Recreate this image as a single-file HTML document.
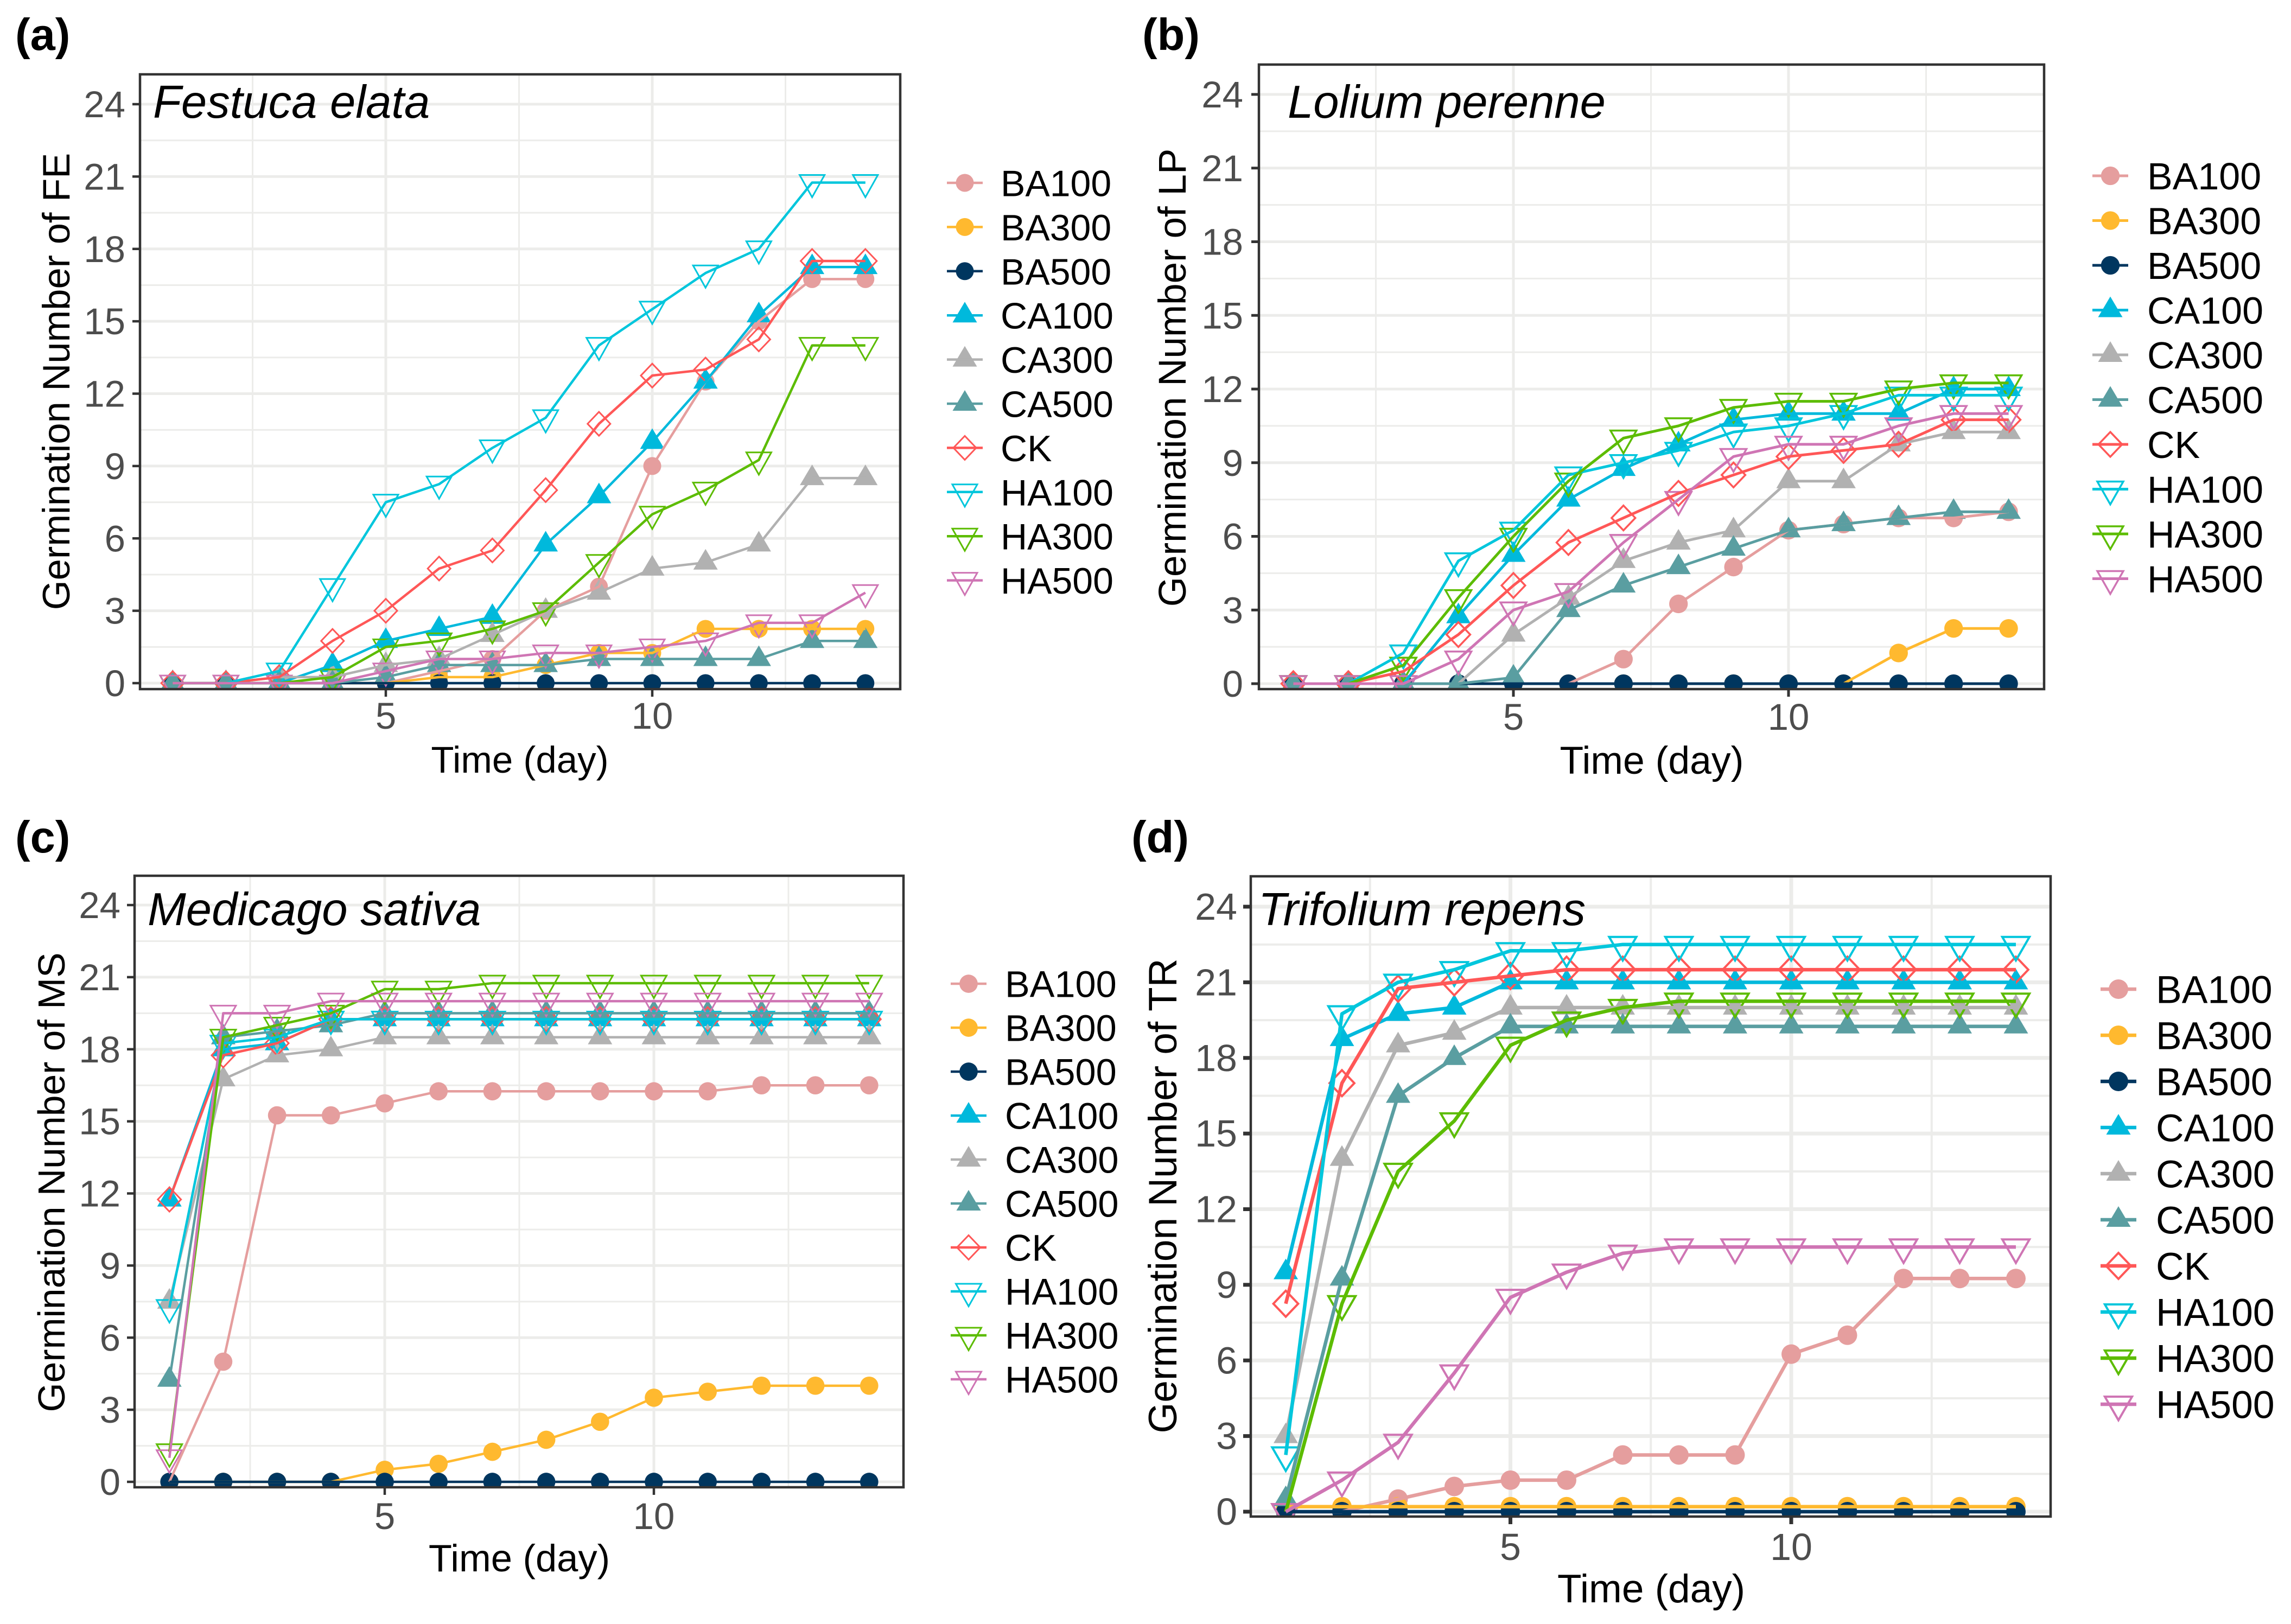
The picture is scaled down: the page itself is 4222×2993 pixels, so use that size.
<!DOCTYPE html>
<html lang="en">
<head>
<meta charset="utf-8">
<title>Germination number over time</title>
<style>
html,body{margin:0;padding:0;background:#fff;}
svg{display:block;}
text{font-family:"Liberation Sans",sans-serif;}
</style>
</head>
<body>
<svg id="figure" xmlns="http://www.w3.org/2000/svg" width="4222" height="2993" viewBox="0 0 4222 2993">
<rect width="4222" height="2993" fill="#ffffff"/>
</svg>
<script>
const days = [1,2,3,4,5,6,7,8,9,10,11,12,13,14];
const yTickLabels = [0,3,6,9,12,15,18,21,24];
const xTickLabels = [5,10];
const yMinorTicks = [1.5,4.5,7.5,10.5,13.5,16.5,19.5,22.5];
const xMinorTicks = [2.5,7.5,12.5];
const seriesNames = ['BA100','BA300','BA500','CA100','CA300','CA500','CK','HA100','HA300','HA500'];

const feBA100 = [0,0,0,0,0,0.5,1,3,4,9,12.5,15,16.75,16.75];
const feBA300 = [0,0,0,0,0,0.25,0.25,0.75,1.25,1.25,2.25,2.25,2.25,2.25];
const feBA500 = [0,0,0,0,0,0,0,0,0,0,0,0,0,0];
const feCA100 = [0,0,0,0.75,1.75,2.25,2.75,5.75,7.75,10,12.5,15.25,17.25,17.25];
const feCA300 = [0,0,0.25,0.25,0.75,1,2,3,3.75,4.75,5,5.75,8.5,8.5];
const feCA500 = [0,0,0,0,0.25,0.75,0.75,0.75,1,1,1,1,1.75,1.75];
const feCK    = [0,0,0.25,1.75,3,4.75,5.5,8,10.75,12.75,13,14.25,17.5,17.5];
const feHA100 = [0,0,0.5,4,7.5,8.25,9.75,11,14,15.5,17,18,20.75,20.75];
const feHA300 = [0,0,0,0.25,1.5,1.75,2.25,3,5,7,8,9.25,14,14];
const feHA500 = [0,0,0,0,0.5,1,1,1.25,1.25,1.5,1.75,2.5,2.5,3.75];

const lpBA100 = [0,0,0,0,0,0,1,3.25,4.75,6.25,6.5,6.75,6.75,7];
const lpBA300 = [0,0,0,0,0,0,0,0,0,0,0,1.25,2.25,2.25];
const lpBA500 = [0,0,0,0,0,0,0,0,0,0,0,0,0,0];
const lpCA100 = [0,0,0,2.75,5.25,7.5,8.75,9.75,10.75,11,11,11,12,12];
const lpCA300 = [0,0,0,0,2,3.5,5,5.75,6.25,8.25,8.25,9.75,10.25,10.25];
const lpCA500 = [0,0,0,0,0.25,3,4,4.75,5.5,6.25,6.5,6.75,7,7];
const lpCK    = [0,0,0.5,2,4,5.75,6.75,7.75,8.5,9.25,9.5,9.75,10.75,10.75];
const lpHA100 = [0,0,1.25,5,6.25,8.5,9,9.5,10.25,10.5,11,11.75,11.75,11.75];
const lpHA300 = [0,0,0.75,3.5,6,8.25,10,10.5,11.25,11.5,11.5,12,12.25,12.25];
const lpHA500 = [0,0,0,1,3,3.75,5.75,7.5,9.25,9.75,9.75,10.5,11,11];

const msBA100 = [0,5,15.25,15.25,15.75,16.25,16.25,16.25,16.25,16.25,16.25,16.5,16.5,16.5];
const msBA300 = [0,0,0,0,0.5,0.75,1.25,1.75,2.5,3.5,3.75,4,4,4];
const msBA500 = [0,0,0,0,0,0,0,0,0,0,0,0,0,0];
const msCA100 = [11.75,18,18.25,19.25,19.25,19.25,19.25,19.25,19.25,19.25,19.25,19.25,19.25,19.25];
const msCA300 = [7.5,16.75,17.75,18,18.5,18.5,18.5,18.5,18.5,18.5,18.5,18.5,18.5,18.5];
const msCA500 = [4.25,18.5,18.75,19,19.5,19.5,19.5,19.5,19.5,19.5,19.5,19.5,19.5,19.5];
const msCK    = [11.75,17.75,18.25,19.25,19.25,19.25,19.25,19.25,19.25,19.25,19.25,19.25,19.25,19.25];
const msHA100 = [7.25,18.25,18.5,19.25,19.25,19.25,19.25,19.25,19.25,19.25,19.25,19.25,19.25,19.25];
const msHA300 = [1.25,18.5,19,19.5,20.5,20.5,20.75,20.75,20.75,20.75,20.75,20.75,20.75,20.75];
const msHA500 = [1,19.5,19.5,20,20,20,20,20,20,20,20,20,20,20];

const trBA100 = [0,0,0.5,1,1.25,1.25,2.25,2.25,2.25,6.25,7,9.25,9.25,9.25];
const trBA300 = [0.2,0.2,0.2,0.2,0.2,0.2,0.2,0.2,0.2,0.2,0.2,0.2,0.2,0.2];
const trBA500 = [0,0,0,0,0,0,0,0,0,0,0,0,0,0];
const trCA100 = [9.5,18.75,19.75,20,21,21,21,21,21,21,21,21,21,21];
const trCA300 = [3,14,18.5,19,20,20,20,20,20,20,20,20,20,20];
const trCA500 = [0.5,9.25,16.5,18,19.25,19.25,19.25,19.25,19.25,19.25,19.25,19.25,19.25,19.25];
const trCK    = [8.25,17,20.75,21,21.25,21.5,21.5,21.5,21.5,21.5,21.5,21.5,21.5,21.5];
const trHA100 = [2.25,19.75,21,21.5,22.25,22.25,22.5,22.5,22.5,22.5,22.5,22.5,22.5,22.5];
const trHA300 = [0,8.25,13.5,15.5,18.5,19.5,20,20.25,20.25,20.25,20.25,20.25,20.25,20.25];
const trHA500 = [0,1.25,2.75,5.5,8.5,9.5,10.25,10.5,10.5,10.5,10.5,10.5,10.5,10.5];

const seriesStyle = {
  BA100:{color:'#e59e9e',shape:'circle'},
  BA300:{color:'#ffb92f',shape:'circle'},
  BA500:{color:'#00365f',shape:'circle'},
  CA100:{color:'#00b9dc',shape:'up'},
  CA300:{color:'#b1b1b1',shape:'up'},
  CA500:{color:'#5a9ea1',shape:'up'},
  CK:{color:'#ff5757',shape:'diamond'},
  HA100:{color:'#00c6dc',shape:'down'},
  HA300:{color:'#5cbc00',shape:'down'},
  HA500:{color:'#cf75b4',shape:'down'}
};

const panels = [
  {id:'a',tag:'(a)',tagX:28,tagY:92,species:'Festuca elata',spX:282,spY:217,code:'FE',
   box:[258,137,1659,1270],x5:711,x10:1202,y0:1259,y24:192,lw:4.5,ms:1,stroke:3,tickW:4.5,majorW:5,minorW:3,tickFont:69,tickGap:27,
   titleX:128,titleY:703,titleFont:70.5,timeX:958,timeY:1424,timeFont:69,tickY:1343,
   legX:1778,legTextX:1844,legY:337,legStep:81.4,legFont:68,
   values:[feBA100,feBA300,feBA500,feCA100,feCA300,feCA500,feCK,feHA100,feHA300,feHA500]},
  {id:'b',tag:'(b)',tagX:2105,tagY:92,species:'Lolium perenne',spX:2373,spY:217,code:'LP',
   box:[2320,119,3767,1270],x5:2789,x10:3296,y0:1260,y24:174,lw:5,ms:1.04,stroke:3.5,tickW:5,majorW:5,minorW:3,tickFont:69,tickGap:29,
   titleX:2185,titleY:696,titleFont:71,timeX:3044,timeY:1426,timeFont:71.5,tickY:1345,
   legX:3889,legTextX:3957,legY:324,legStep:82.5,legFont:70,
   values:[lpBA100,lpBA300,lpBA500,lpCA100,lpCA300,lpCA500,lpCK,lpHA100,lpHA300,lpHA500]},
  {id:'c',tag:'(c)',tagX:28,tagY:1571,species:'Medicago sativa',spX:272,spY:1705,code:'MS',
   box:[248,1614,1665,2741],x5:709,x10:1205,y0:2731,y24:1668,lw:4.5,ms:1.02,stroke:3,tickW:4.5,majorW:5,minorW:3,tickFont:69,tickGap:26,
   titleX:119,titleY:2179,titleFont:69.6,timeX:957,timeY:2896,timeFont:70.5,tickY:2818,
   legX:1785,legTextX:1852,legY:1813,legStep:81,legFont:68.5,
   values:[msBA100,msBA300,msBA500,msCA100,msCA300,msCA500,msCK,msHA100,msHA300,msHA500]},
  {id:'d',tag:'(d)',tagX:2085,tagY:1571,species:'Trifolium repens',spX:2319,spY:1705,code:'TR',
   box:[2305,1615,3779,2795],x5:2783.5,x10:3301,y0:2786,y24:1671,lw:6.5,ms:1.09,stroke:4,tickW:7,majorW:7,minorW:4,tickFont:70,tickGap:25,
   titleX:2168,titleY:2204,titleFont:73,timeX:3043,timeY:2953,timeFont:73,tickY:2875,
   legX:3904,legTextX:3973,legY:1823,legStep:85,legFont:71.5,
   values:[trBA100,trBA300,trBA500,trCA100,trCA300,trCA500,trCK,trHA100,trHA300,trHA500]}
];

const NS = 'http://www.w3.org/2000/svg';
const fig = document.getElementById('figure');
const defs = document.createElementNS(NS,'defs');
fig.appendChild(defs);

function make(tag, attrs, parent, txt){
  const n = document.createElementNS(NS, tag);
  for (const k in attrs) n.setAttribute(k, attrs[k]);
  if (txt !== undefined) n.textContent = txt;
  parent.appendChild(n);
  return n;
}

function drawMarker(shape, color, cx, cy, parent, ms, sw){
  let m;
  if (shape === 'circle') {
    m = make('circle',{cx:cx,cy:cy,r:16.5*ms,fill:color},parent);
  } else if (shape === 'up') {
    m = make('polygon',{points:[cx,cy-25,cx+22.5,cy+13,cx-22.5,cy+13].join(' '),fill:color},parent);
  } else if (shape === 'diamond') {
    m = make('polygon',{points:[cx,cy-22*ms,cx+21*ms,cy,cx,cy+22*ms,cx-21*ms,cy].join(' '),fill:'none',stroke:color,'stroke-width':sw},parent);
  } else {
    m = make('polygon',{points:[cx-23*ms,cy-14,cx+23*ms,cy-14,cx,cy+27*ms].join(' '),fill:'none',stroke:color,'stroke-width':sw},parent);
  }
  return m;
}

panels.forEach(function(p){
  const xScale = function(d){ return p.x5 + (d-5)*(p.x10-p.x5)/5; };
  const yScale = function(v){ return p.y0 + v*(p.y24-p.y0)/24; };
  const L = p.box[0], T = p.box[1], R = p.box[2], B = p.box[3];

  const g = make('g',{},fig);
  
  

  const tagText = make('text',{x:p.tagX,y:p.tagY,'font-size':83,'font-weight':'bold',fill:'#000'},g,p.tag);
  
  

  const clip = make('clipPath',{id:'clip-'+p.id},defs);
  make('rect',{x:L,y:T,width:R-L,height:B-T},clip);

  const grid = make('g',{stroke:'#ececea',fill:'none'},g);
  
  
  yMinorTicks.forEach(function(v){
    const l = make('line',{x1:L,x2:R,y1:yScale(v),y2:yScale(v),'stroke-width':p.minorW},grid);
    
    
  });
  xMinorTicks.forEach(function(v){
    const l = make('line',{y1:T,y2:B,x1:xScale(v),x2:xScale(v),'stroke-width':p.minorW},grid);
    
    
  });
  yTickLabels.forEach(function(v){
    const l = make('line',{x1:L,x2:R,y1:yScale(v),y2:yScale(v),'stroke-width':p.majorW},grid);
    
    
  });
  xTickLabels.forEach(function(v){
    const l = make('line',{y1:T,y2:B,x1:xScale(v),x2:xScale(v),'stroke-width':p.majorW},grid);
    
    
  });

  const plot = make('g',{'clip-path':'url(#clip-'+p.id+')'},g);
  
  

  seriesNames.forEach(function(name,i){
    const st = seriesStyle[name];
    p.values[i].forEach(function(v,j){
      const m = drawMarker(st.shape, st.color, xScale(days[j]), yScale(v), plot, p.ms, p.stroke);
      
      
    });
  });
  seriesNames.forEach(function(name,i){
    const st = seriesStyle[name];
    const pts = p.values[i].map(function(v,j){ return xScale(days[j]) + ',' + yScale(v); }).join(' ');
    const line = make('polyline',{points:pts,fill:'none',stroke:st.color,'stroke-width':p.lw,'stroke-linejoin':'round'},plot);
    
    
  });

  const border = make('rect',{x:L,y:T,width:R-L,height:B-T,fill:'none',stroke:'#333333','stroke-width':4.5},g);
  
  

  yTickLabels.forEach(function(v){
    const y = yScale(v);
    const t = make('line',{x1:L-14,x2:L,y1:y,y2:y,stroke:'#333333','stroke-width':p.tickW},g);
    
    
    const lab = make('text',{x:L-p.tickGap,y:y+24,'font-size':p.tickFont,'text-anchor':'end',fill:'#4d4d4d'},g,String(v));
    
    
  });
  xTickLabels.forEach(function(v){
    const x = xScale(v);
    const t = make('line',{x1:x,x2:x,y1:B,y2:B+14,stroke:'#333333','stroke-width':p.tickW},g);
    
    
    const lab = make('text',{x:x,y:p.tickY,'font-size':p.tickFont,'text-anchor':'middle',fill:'#4d4d4d'},g,String(v));
    
    
  });

  const sp = make('text',{x:p.spX,y:p.spY,'font-size':85,'font-style':'italic',fill:'#000'},g,p.species);
  
  

  const yt = make('text',{x:p.titleX,y:p.titleY,'font-size':p.titleFont,'text-anchor':'middle',fill:'#000',transform:'rotate(-90 '+p.titleX+' '+p.titleY+')'},g,'Germination Number of '+p.code);
  
  

  const xt = make('text',{x:p.timeX,y:p.timeY,'font-size':p.timeFont,'text-anchor':'middle',fill:'#000'},g,'Time (day)');
  
  

  const legend = make('g',{},g);
  
  
  seriesNames.forEach(function(name,i){
    const st = seriesStyle[name];
    const y = p.legY + i*p.legStep;
    const entry = make('g',{},legend);
    
    
    drawMarker(st.shape, st.color, p.legX, y, entry, p.ms, p.stroke);
    make('line',{x1:p.legX-33,x2:p.legX+33,y1:y,y2:y,stroke:st.color,'stroke-width':p.lw},entry);
    make('text',{x:p.legTextX,y:y+p.legFont*0.36,'font-size':p.legFont,fill:'#000'},entry,name);
  });
});
</script>
</body>
</html>
